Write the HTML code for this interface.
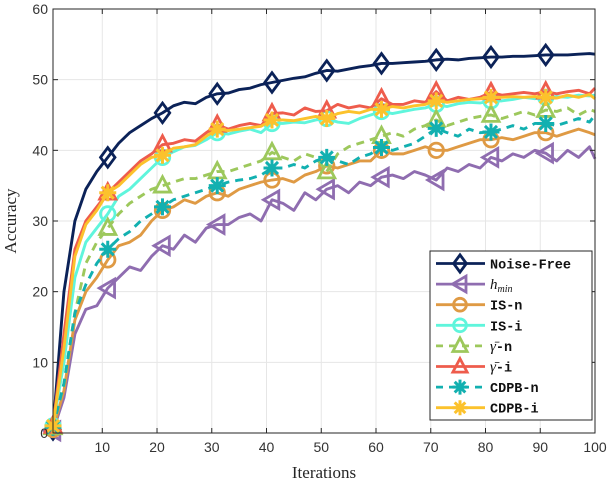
<!DOCTYPE html>
<html><head><meta charset="utf-8"><style>
html,body{margin:0;padding:0;background:#fff;}
svg{display:block;}
</style></head><body>
<svg id="chart" width="610" height="482" xmlns="http://www.w3.org/2000/svg"></svg>
<script>
const xs=[1,3,5,7,9,11,13,15,17,19,21,23,25,27,29,31,33,35,37,39,41,43,45,47,49,51,53,55,57,59,61,63,65,67,69,71,73,75,77,79,81,83,85,87,89,91,93,95,97,99,100];
const noiseFree=[0.5,20,30,34.5,37,39,41,42.5,43.5,44.5,45.3,46.3,46.8,46.6,47.5,48,48.1,48.6,48.8,49.3,49.6,49.9,50.2,50.4,50.9,51.3,51.2,51.5,51.8,52,52.3,52.3,52.4,52.5,52.6,52.8,52.9,52.8,53,53.1,53.2,53.2,53.3,53.3,53.4,53.5,53.5,53.5,53.6,53.7,53.6];
const hMin=[0.3,5,14,17.5,18,20.5,22,23.5,23,25,26.5,26,28,27,29,29.5,29.5,30.5,31,30,33,32.5,31.5,34,33,34.5,35,34,35.5,35,36.2,36.5,36,37,36.5,35.8,37.5,37,38,37.5,39,38.5,39.5,39,40,39.6,38.5,40,39,40.5,38.8];
const isN=[0.5,6,16,20,22,24.5,26.5,27,28,30,31.5,32,33,32.5,33.5,34,33.5,34.5,35,35.5,35.8,36,35.5,36.5,37,37.8,37.5,38,38.5,38.5,40,39.5,39.5,40,40.5,40,40,40.5,41,41.5,41.5,41.8,41.5,42,42.5,42.5,42,42.5,43,42.5,42.2];
const isI=[1,10,22,27,29,31,33.5,34.5,36,37.5,39,39.8,40.5,40.7,41.5,42.5,42.3,42.7,43,42.5,43.8,43.8,44,43.9,44.3,44.5,44,43.8,44.5,45,45.5,45.2,45.5,45.8,46,46.5,46.2,46.6,46.8,46.7,47,47,47.2,47.5,47.3,47.5,47.6,47.5,47.8,47.7,47.8];
const gammaN=[0.8,7,17,24,27,29,31,32.5,33.5,34.5,35,35.5,36,36,36.5,37,37,37.5,38,38.5,39.7,39,38.5,39.5,39,37,39.5,40.5,41,41.5,42,42.5,42,43,43.5,44.3,43.5,44,44.5,44.8,45,44.5,45,45.5,45,45.7,45.5,46,45,45.8,45.5];
const gammaI=[1,14,26,30,32,34,35.5,37,38.5,39.5,40.8,41,41.5,41.3,42.5,43.6,43,43.5,43.8,43.5,45.2,45.3,45,46,45.5,45.6,46.5,46,46.3,46,47.3,46.5,46.5,47,46.8,48.3,47,47.5,47.2,47.5,48.2,47.8,48,48.2,48,48.3,48,48.3,48.5,48,48.8];
const cdpbN=[0.8,7,17,21,24,26,27.5,28.5,30,31,32,33,33.5,34,34.5,35,35.5,35.8,36,36.5,37.5,37.5,38,37.5,38.5,39,38.5,38,39,39.5,40.4,40,40.5,41,42,43.1,42.5,42,43,42.5,42.6,43,43.5,43,43.8,43.8,43.5,44,44.5,44,45];
const cdpbI=[1,12,25,29.5,31.5,34,35,36.5,38,39,39.3,40.3,40.5,40.8,42,43,42.8,43,43.2,43.4,44.3,44.3,44.2,44.5,44.8,44.5,45.2,45.5,45.3,45.8,45.8,46.2,46,46.3,46.5,47,46.8,47,47.2,47.3,47.5,47.5,47.6,47.5,47.6,47.5,47.4,47.8,47.5,47.9,47.3];
const xTicks=[10,20,30,40,50,60,70,80,90,100];
const yTicks=[0,10,20,30,40,50,60];
const seriesNames=["Noise-Free","h_min","IS-n","IS-i","γ-n","γ-i","CDPB-n","CDPB-i"];

const L=53,R=595,T=9,B=433;
const X=v=>L+(v-1)/(100-1)*(R-L);
const Y=v=>B-v/60*(B-T);
const NS="http://www.w3.org/2000/svg";
const svg=document.getElementById('chart');
function mk(tag,attrs,parent){const e=document.createElementNS(NS,tag);for(const k in attrs)e.setAttribute(k,attrs[k]);(parent||svg).appendChild(e);return e;}

for(const t of xTicks){const g=mk('line',{x1:X(t),x2:X(t),y1:T,y2:B,stroke:'#e6e6e6','stroke-width':1});

}
for(const t of yTicks){const g=mk('line',{x1:L,x2:R,y1:Y(t),y2:Y(t),stroke:'#e6e6e6','stroke-width':1});

}

const series=[
 {d:noiseFree,c:'#0b2258',m:'diamond',dash:null},
 {d:hMin,c:'#8f6db0',m:'ltri',dash:null},
 {d:isN,c:'#df9a44',m:'circle',dash:null},
 {d:isI,c:'#5ff5dc',m:'circle',dash:null},
 {d:gammaN,c:'#9dc85c',m:'tri',dash:'8,6'},
 {d:gammaI,c:'#ee5c4c',m:'tri',dash:null},
 {d:cdpbN,c:'#12b0b0',m:'star',dash:'8,6'},
 {d:cdpbI,c:'#fcc22c',m:'star',dash:null}
];
function marker(type,cx,cy,c,g,s){
 s=s||8.5;let e;
 if(type==='diamond')e=mk('polygon',{points:`${cx},${cy-s*1.15} ${cx+s*0.85},${cy} ${cx},${cy+s*1.15} ${cx-s*0.85},${cy}`,fill:'none',stroke:c,'stroke-width':2.8},g);
 else if(type==='ltri')e=mk('polygon',{points:`${cx-s},${cy} ${cx+s*0.8},${cy-s*1.05} ${cx+s*0.8},${cy+s*1.05}`,fill:'none',stroke:c,'stroke-width':2.8},g);
 else if(type==='tri')e=mk('polygon',{points:`${cx},${cy-s*1.05} ${cx+s*0.95},${cy+s*0.75} ${cx-s*0.95},${cy+s*0.75}`,fill:'none',stroke:c,'stroke-width':2.8},g);
 else if(type==='circle')e=mk('circle',{cx:cx,cy:cy,r:s*0.85,fill:'none',stroke:c,'stroke-width':2.8},g);
 else {const p=[];for(let k=0;k<4;k++){const a=k*Math.PI/4;p.push(`M${cx-s*Math.cos(a)},${cy-s*Math.sin(a)}L${cx+s*Math.cos(a)},${cy+s*Math.sin(a)}`);}
  e=mk('path',{d:p.join(''),stroke:c,'stroke-width':3,fill:'none'},g);}
 return e;
}
series.forEach((s,i)=>{
 const g=mk('g',{});
 
 
 const pts=s.d.map((v,j)=>X(xs[j])+','+Y(v)).join(' ');
 const a={points:pts,fill:'none',stroke:s.c,'stroke-width':2.9,'stroke-linejoin':'round'};
 if(s.dash)a['stroke-dasharray']=s.dash;
 const pl=mk('polyline',a,g);
 
 
 s.d.forEach((v,j)=>{ if((xs[j]-1)%10===0){const m=marker(s.m,X(xs[j]),Y(v),s.c,g);
  
  }});
});

const box=mk('rect',{x:L,y:T,width:R-L,height:B-T,fill:'none',stroke:'#262626','stroke-width':1});


for(const t of xTicks){
 mk('line',{x1:X(t),x2:X(t),y1:B,y2:B-5,stroke:'#262626'});
 mk('line',{x1:X(t),x2:X(t),y1:T,y2:T+5,stroke:'#262626'});
 const tx=mk('text',{x:X(t),y:B+19,'text-anchor':'middle','font-family':'Liberation Sans, sans-serif','font-size':14,fill:'#333'});
 tx.textContent=t;
 
 
}
for(const t of yTicks){
 mk('line',{x1:L,x2:L+5,y1:Y(t),y2:Y(t),stroke:'#262626'});
 mk('line',{x1:R,x2:R-5,y1:Y(t),y2:Y(t),stroke:'#262626'});
 const tx=mk('text',{x:L-5,y:Y(t)+5,'text-anchor':'end','font-family':'Liberation Sans, sans-serif','font-size':14,fill:'#333'});
 tx.textContent=t;
 
 
}
const xl=mk('text',{x:(L+R)/2,y:478,'text-anchor':'middle','font-family':'Liberation Serif, serif','font-size':17,fill:'#262626'});
xl.textContent='Iterations';


const yl=mk('text',{x:0,y:0,'text-anchor':'middle','font-family':'Liberation Serif, serif','font-size':17,fill:'#262626',transform:`translate(16,${(T+B)/2}) rotate(-90)`});
yl.textContent='Accuracy';



const lg=mk('g',{});


mk('rect',{x:430,y:251,width:162,height:169,fill:'#fff',stroke:'#262626','stroke-width':1},lg);
series.forEach((s,i)=>{
 const y=263.5+i*20.6;
 const e=mk('g',{},lg);
 
 
 const a={x1:436,x2:485,y1:y,y2:y,stroke:s.c,'stroke-width':2.8};
 if(s.dash)a['stroke-dasharray']='7,6';
 mk('line',a,e);
 marker(s.m,460,y,s.c,e,7.5);
 const t=mk('text',{x:490,y:y+5,'font-family':'Liberation Mono, monospace','font-weight':'bold','font-size':13.5,fill:'#111'},e);
 if(i===1){t.setAttribute('font-family','Liberation Serif, serif');t.setAttribute('font-style','italic');t.setAttribute('font-weight','normal');t.setAttribute('font-size','15');
   t.innerHTML='h<tspan font-size="10" dy="3">min</tspan>';}
 else if(i===4||i===5){t.innerHTML='<tspan font-family="Liberation Serif, serif" font-style="italic" font-weight="normal" font-size="15">γ̄</tspan>-'+(i===4?'n':'i');}
 else t.textContent=seriesNames[i];
});
</script>
</body></html>
